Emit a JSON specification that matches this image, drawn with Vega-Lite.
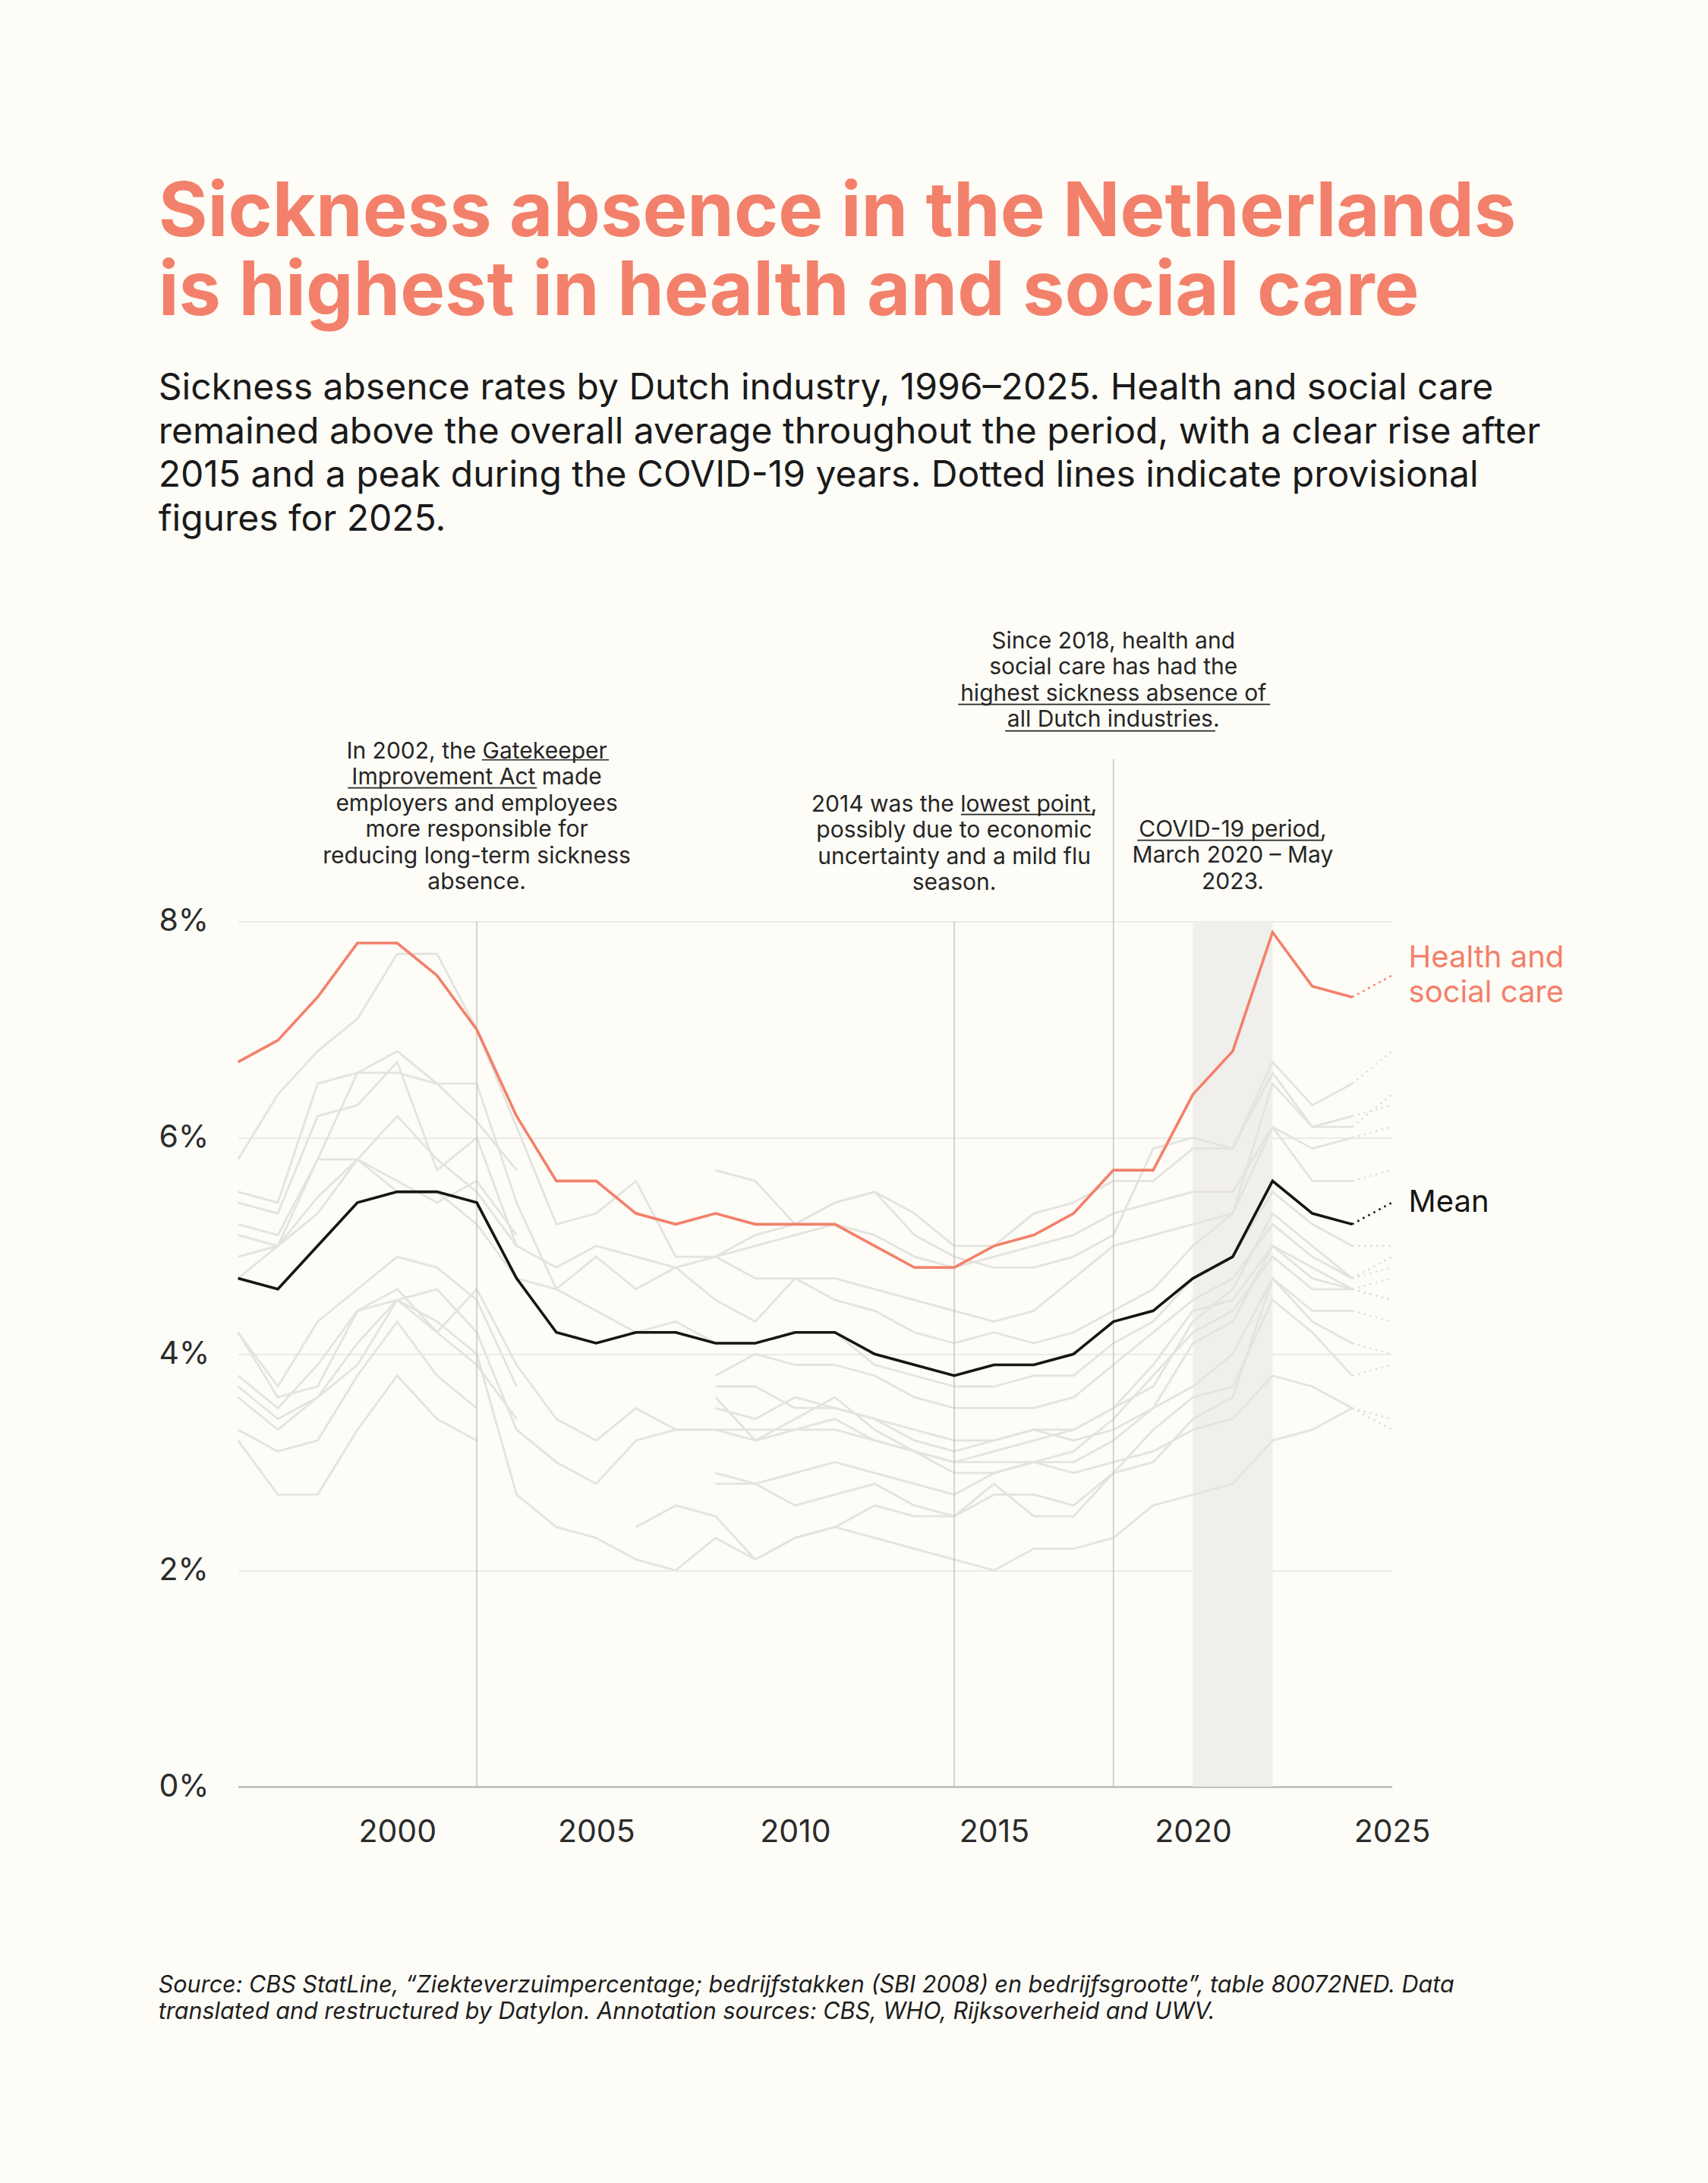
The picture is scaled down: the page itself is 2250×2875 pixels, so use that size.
{
  "$schema": "https://vega.github.io/schema/vega-lite/v6.json",
  "width": 1520,
  "height": 1139.5,
  "autosize": {"type": "none"},
  "padding": {"left": 313.6, "top": 1213.5, "right": 416.4, "bottom": 521.5},
  "background": "#FDFCF6",
  "config": {
    "view": {"stroke": null},
    "font": "Inter",
    "text": {"font": "Inter"}
  },
  "title": {
    "text": ["Sickness absence in the Netherlands", "is highest in health and social care"],
    "subtitle": [
      "Sickness absence rates by Dutch industry, 1996–2025. Health and social care",
      "remained above the overall average throughout the period, with a clear rise after",
      "2015 and a peak during the COVID-19 years. Dotted lines indicate provisional",
      "figures for 2025."
    ],
    "anchor": "start",
    "frame": "bounds",
    "orient": "top",
    "font": "Inter",
    "fontSize": 99,
    "fontWeight": 700,
    "color": "#F3806B",
    "lineHeight": 104.5,
    "subtitleFont": "Inter",
    "subtitleFontSize": 48,
    "subtitleFontWeight": 400,
    "subtitleColor": "#1A1A1A",
    "subtitleLineHeight": 57.5,
    "subtitlePadding": 52,
    "offset": 120
  },
  "datasets": {
    "industries": [
      {"s": "Landbouw (SBI 1993)", "t": 1996, "v": 5.4}, {"s": "Landbouw (SBI 1993)", "t": 1997, "v": 5.3}, {"s": "Landbouw (SBI 1993)", "t": 1998, "v": 6.2}, {"s": "Landbouw (SBI 1993)", "t": 1999, "v": 6.3}, {"s": "Landbouw (SBI 1993)", "t": 2000, "v": 6.7}, {"s": "Landbouw (SBI 1993)", "t": 2001, "v": 5.7}, {"s": "Landbouw (SBI 1993)", "t": 2002, "v": 6.0}, {"s": "Landbouw (SBI 1993)", "t": 2003, "v": 5.0},
      {"s": "Industrie (SBI 1993)", "t": 1996, "v": 4.9}, {"s": "Industrie (SBI 1993)", "t": 1997, "v": 5.0}, {"s": "Industrie (SBI 1993)", "t": 1998, "v": 5.8}, {"s": "Industrie (SBI 1993)", "t": 1999, "v": 6.6}, {"s": "Industrie (SBI 1993)", "t": 2000, "v": 6.8}, {"s": "Industrie (SBI 1993)", "t": 2001, "v": 6.5}, {"s": "Industrie (SBI 1993)", "t": 2002, "v": 6.15}, {"s": "Industrie (SBI 1993)", "t": 2003, "v": 5.7},
      {"s": "Bouw (SBI 1993)", "t": 1996, "v": 5.1}, {"s": "Bouw (SBI 1993)", "t": 1997, "v": 5.0}, {"s": "Bouw (SBI 1993)", "t": 1998, "v": 5.45}, {"s": "Bouw (SBI 1993)", "t": 1999, "v": 5.8}, {"s": "Bouw (SBI 1993)", "t": 2000, "v": 5.6}, {"s": "Bouw (SBI 1993)", "t": 2001, "v": 5.4}, {"s": "Bouw (SBI 1993)", "t": 2002, "v": 5.6}, {"s": "Bouw (SBI 1993)", "t": 2003, "v": 5.1},
      {"s": "Handel (SBI 1993)", "t": 1996, "v": 4.2}, {"s": "Handel (SBI 1993)", "t": 1997, "v": 3.7}, {"s": "Handel (SBI 1993)", "t": 1998, "v": 4.3}, {"s": "Handel (SBI 1993)", "t": 1999, "v": 4.6}, {"s": "Handel (SBI 1993)", "t": 2000, "v": 4.9}, {"s": "Handel (SBI 1993)", "t": 2001, "v": 4.8}, {"s": "Handel (SBI 1993)", "t": 2002, "v": 4.5}, {"s": "Handel (SBI 1993)", "t": 2003, "v": 3.7},
      {"s": "Horeca (SBI 1993)", "t": 1996, "v": 3.8}, {"s": "Horeca (SBI 1993)", "t": 1997, "v": 3.5}, {"s": "Horeca (SBI 1993)", "t": 1998, "v": 3.9}, {"s": "Horeca (SBI 1993)", "t": 1999, "v": 4.4}, {"s": "Horeca (SBI 1993)", "t": 2000, "v": 4.5}, {"s": "Horeca (SBI 1993)", "t": 2001, "v": 4.2}, {"s": "Horeca (SBI 1993)", "t": 2002, "v": 3.9}, {"s": "Horeca (SBI 1993)", "t": 2003, "v": 3.4},
      {"s": "Zakelijke diensten (SBI 1993)", "t": 1996, "v": 3.2}, {"s": "Zakelijke diensten (SBI 1993)", "t": 1997, "v": 2.7}, {"s": "Zakelijke diensten (SBI 1993)", "t": 1998, "v": 2.7}, {"s": "Zakelijke diensten (SBI 1993)", "t": 1999, "v": 3.3}, {"s": "Zakelijke diensten (SBI 1993)", "t": 2000, "v": 3.8}, {"s": "Zakelijke diensten (SBI 1993)", "t": 2001, "v": 3.4}, {"s": "Zakelijke diensten (SBI 1993)", "t": 2002, "v": 3.2},
      {"s": "Financiële instellingen (SBI 1993)", "t": 1996, "v": 3.3}, {"s": "Financiële instellingen (SBI 1993)", "t": 1997, "v": 3.1}, {"s": "Financiële instellingen (SBI 1993)", "t": 1998, "v": 3.2}, {"s": "Financiële instellingen (SBI 1993)", "t": 1999, "v": 3.8}, {"s": "Financiële instellingen (SBI 1993)", "t": 2000, "v": 4.3}, {"s": "Financiële instellingen (SBI 1993)", "t": 2001, "v": 3.8}, {"s": "Financiële instellingen (SBI 1993)", "t": 2002, "v": 3.5},

      {"s": "Openbaar bestuur", "t": 1996, "v": 5.8}, {"s": "Openbaar bestuur", "t": 1997, "v": 6.4}, {"s": "Openbaar bestuur", "t": 1998, "v": 6.8}, {"s": "Openbaar bestuur", "t": 1999, "v": 7.1}, {"s": "Openbaar bestuur", "t": 2000, "v": 7.7}, {"s": "Openbaar bestuur", "t": 2001, "v": 7.7}, {"s": "Openbaar bestuur", "t": 2002, "v": 7.0}, {"s": "Openbaar bestuur", "t": 2003, "v": 6.1}, {"s": "Openbaar bestuur", "t": 2004, "v": 5.2}, {"s": "Openbaar bestuur", "t": 2005, "v": 5.3}, {"s": "Openbaar bestuur", "t": 2006, "v": 5.6}, {"s": "Openbaar bestuur", "t": 2007, "v": 4.9}, {"s": "Openbaar bestuur", "t": 2008, "v": 4.9}, {"s": "Openbaar bestuur", "t": 2009, "v": 5.1}, {"s": "Openbaar bestuur", "t": 2010, "v": 5.2}, {"s": "Openbaar bestuur", "t": 2011, "v": 5.4}, {"s": "Openbaar bestuur", "t": 2012, "v": 5.5}, {"s": "Openbaar bestuur", "t": 2013, "v": 5.1}, {"s": "Openbaar bestuur", "t": 2014, "v": 4.9}, {"s": "Openbaar bestuur", "t": 2015, "v": 4.8}, {"s": "Openbaar bestuur", "t": 2016, "v": 4.8}, {"s": "Openbaar bestuur", "t": 2017, "v": 4.9}, {"s": "Openbaar bestuur", "t": 2018, "v": 5.1}, {"s": "Openbaar bestuur", "t": 2019, "v": 5.9}, {"s": "Openbaar bestuur", "t": 2020, "v": 6.0}, {"s": "Openbaar bestuur", "t": 2021, "v": 5.9}, {"s": "Openbaar bestuur", "t": 2022, "v": 6.7}, {"s": "Openbaar bestuur", "t": 2023, "v": 6.3}, {"s": "Openbaar bestuur", "t": 2024, "v": 6.5}, {"s": "Openbaar bestuur", "t": 2025, "v": 6.8},
      {"s": "Vervoer en opslag", "t": 1996, "v": 5.5}, {"s": "Vervoer en opslag", "t": 1997, "v": 5.4}, {"s": "Vervoer en opslag", "t": 1998, "v": 6.5}, {"s": "Vervoer en opslag", "t": 1999, "v": 6.6}, {"s": "Vervoer en opslag", "t": 2000, "v": 6.6}, {"s": "Vervoer en opslag", "t": 2001, "v": 6.5}, {"s": "Vervoer en opslag", "t": 2002, "v": 6.5}, {"s": "Vervoer en opslag", "t": 2003, "v": 5.4}, {"s": "Vervoer en opslag", "t": 2004, "v": 4.6}, {"s": "Vervoer en opslag", "t": 2005, "v": 4.9}, {"s": "Vervoer en opslag", "t": 2006, "v": 4.6}, {"s": "Vervoer en opslag", "t": 2007, "v": 4.8}, {"s": "Vervoer en opslag", "t": 2008, "v": 4.5}, {"s": "Vervoer en opslag", "t": 2009, "v": 4.3}, {"s": "Vervoer en opslag", "t": 2010, "v": 4.7}, {"s": "Vervoer en opslag", "t": 2011, "v": 4.5}, {"s": "Vervoer en opslag", "t": 2012, "v": 4.4}, {"s": "Vervoer en opslag", "t": 2013, "v": 4.2}, {"s": "Vervoer en opslag", "t": 2014, "v": 4.1}, {"s": "Vervoer en opslag", "t": 2015, "v": 4.2}, {"s": "Vervoer en opslag", "t": 2016, "v": 4.1}, {"s": "Vervoer en opslag", "t": 2017, "v": 4.2}, {"s": "Vervoer en opslag", "t": 2018, "v": 4.4}, {"s": "Vervoer en opslag", "t": 2019, "v": 4.6}, {"s": "Vervoer en opslag", "t": 2020, "v": 5.0}, {"s": "Vervoer en opslag", "t": 2021, "v": 5.3}, {"s": "Vervoer en opslag", "t": 2022, "v": 6.5}, {"s": "Vervoer en opslag", "t": 2023, "v": 6.1}, {"s": "Vervoer en opslag", "t": 2024, "v": 6.1}, {"s": "Vervoer en opslag", "t": 2025, "v": 6.4},
      {"s": "Industrie", "t": 1996, "v": 5.2}, {"s": "Industrie", "t": 1997, "v": 5.1}, {"s": "Industrie", "t": 1998, "v": 5.8}, {"s": "Industrie", "t": 1999, "v": 5.8}, {"s": "Industrie", "t": 2000, "v": 5.5}, {"s": "Industrie", "t": 2001, "v": 5.5}, {"s": "Industrie", "t": 2002, "v": 5.2}, {"s": "Industrie", "t": 2003, "v": 4.7}, {"s": "Industrie", "t": 2004, "v": 4.6}, {"s": "Industrie", "t": 2005, "v": 4.4}, {"s": "Industrie", "t": 2006, "v": 4.2}, {"s": "Industrie", "t": 2007, "v": 4.3}, {"s": "Industrie", "t": 2008, "v": 4.1}, {"s": "Industrie", "t": 2009, "v": 4.1}, {"s": "Industrie", "t": 2010, "v": 4.2}, {"s": "Industrie", "t": 2011, "v": 4.2}, {"s": "Industrie", "t": 2012, "v": 3.9}, {"s": "Industrie", "t": 2013, "v": 3.8}, {"s": "Industrie", "t": 2014, "v": 3.7}, {"s": "Industrie", "t": 2015, "v": 3.7}, {"s": "Industrie", "t": 2016, "v": 3.8}, {"s": "Industrie", "t": 2017, "v": 3.8}, {"s": "Industrie", "t": 2018, "v": 4.1}, {"s": "Industrie", "t": 2019, "v": 4.3}, {"s": "Industrie", "t": 2020, "v": 4.7}, {"s": "Industrie", "t": 2021, "v": 4.9}, {"s": "Industrie", "t": 2022, "v": 5.5}, {"s": "Industrie", "t": 2023, "v": 5.2}, {"s": "Industrie", "t": 2024, "v": 5.0}, {"s": "Industrie", "t": 2025, "v": 5.0},
      {"s": "Onderwijs", "t": 1996, "v": 4.7}, {"s": "Onderwijs", "t": 1997, "v": 5.0}, {"s": "Onderwijs", "t": 1998, "v": 5.3}, {"s": "Onderwijs", "t": 1999, "v": 5.8}, {"s": "Onderwijs", "t": 2000, "v": 6.2}, {"s": "Onderwijs", "t": 2001, "v": 5.8}, {"s": "Onderwijs", "t": 2002, "v": 5.5}, {"s": "Onderwijs", "t": 2003, "v": 5.0}, {"s": "Onderwijs", "t": 2004, "v": 4.8}, {"s": "Onderwijs", "t": 2005, "v": 5.0}, {"s": "Onderwijs", "t": 2006, "v": 4.9}, {"s": "Onderwijs", "t": 2007, "v": 4.8}, {"s": "Onderwijs", "t": 2008, "v": 4.9}, {"s": "Onderwijs", "t": 2009, "v": 4.7}, {"s": "Onderwijs", "t": 2010, "v": 4.7}, {"s": "Onderwijs", "t": 2011, "v": 4.7}, {"s": "Onderwijs", "t": 2012, "v": 4.6}, {"s": "Onderwijs", "t": 2013, "v": 4.5}, {"s": "Onderwijs", "t": 2014, "v": 4.4}, {"s": "Onderwijs", "t": 2015, "v": 4.3}, {"s": "Onderwijs", "t": 2016, "v": 4.4}, {"s": "Onderwijs", "t": 2017, "v": 4.7}, {"s": "Onderwijs", "t": 2018, "v": 5.0}, {"s": "Onderwijs", "t": 2019, "v": 5.1}, {"s": "Onderwijs", "t": 2020, "v": 5.2}, {"s": "Onderwijs", "t": 2021, "v": 5.3}, {"s": "Onderwijs", "t": 2022, "v": 6.1}, {"s": "Onderwijs", "t": 2023, "v": 5.6}, {"s": "Onderwijs", "t": 2024, "v": 5.6}, {"s": "Onderwijs", "t": 2025, "v": 5.7},
      {"s": "Waterbedrijven en afvalbeheer", "t": 1996, "v": 4.2}, {"s": "Waterbedrijven en afvalbeheer", "t": 1997, "v": 3.6}, {"s": "Waterbedrijven en afvalbeheer", "t": 1998, "v": 3.7}, {"s": "Waterbedrijven en afvalbeheer", "t": 1999, "v": 4.4}, {"s": "Waterbedrijven en afvalbeheer", "t": 2000, "v": 4.6}, {"s": "Waterbedrijven en afvalbeheer", "t": 2001, "v": 4.2}, {"s": "Waterbedrijven en afvalbeheer", "t": 2002, "v": 4.6}, {"s": "Waterbedrijven en afvalbeheer", "t": 2003, "v": 3.9}, {"s": "Waterbedrijven en afvalbeheer", "t": 2004, "v": 3.4}, {"s": "Waterbedrijven en afvalbeheer", "t": 2005, "v": 3.2}, {"s": "Waterbedrijven en afvalbeheer", "t": 2006, "v": 3.5}, {"s": "Waterbedrijven en afvalbeheer", "t": 2007, "v": 3.3}, {"s": "Waterbedrijven en afvalbeheer", "t": 2008, "v": 3.3}, {"s": "Waterbedrijven en afvalbeheer", "t": 2009, "v": 3.2}, {"s": "Waterbedrijven en afvalbeheer", "t": 2010, "v": 3.3}, {"s": "Waterbedrijven en afvalbeheer", "t": 2011, "v": 3.4}, {"s": "Waterbedrijven en afvalbeheer", "t": 2012, "v": 3.2}, {"s": "Waterbedrijven en afvalbeheer", "t": 2013, "v": 3.1}, {"s": "Waterbedrijven en afvalbeheer", "t": 2014, "v": 3.0}, {"s": "Waterbedrijven en afvalbeheer", "t": 2015, "v": 3.1}, {"s": "Waterbedrijven en afvalbeheer", "t": 2016, "v": 3.2}, {"s": "Waterbedrijven en afvalbeheer", "t": 2017, "v": 3.3}, {"s": "Waterbedrijven en afvalbeheer", "t": 2018, "v": 3.5}, {"s": "Waterbedrijven en afvalbeheer", "t": 2019, "v": 3.7}, {"s": "Waterbedrijven en afvalbeheer", "t": 2020, "v": 4.3}, {"s": "Waterbedrijven en afvalbeheer", "t": 2021, "v": 4.6}, {"s": "Waterbedrijven en afvalbeheer", "t": 2022, "v": 5.3}, {"s": "Waterbedrijven en afvalbeheer", "t": 2023, "v": 5.0}, {"s": "Waterbedrijven en afvalbeheer", "t": 2024, "v": 4.7}, {"s": "Waterbedrijven en afvalbeheer", "t": 2025, "v": 4.9},
      {"s": "Bouwnijverheid", "t": 1996, "v": 3.7}, {"s": "Bouwnijverheid", "t": 1997, "v": 3.4}, {"s": "Bouwnijverheid", "t": 1998, "v": 3.6}, {"s": "Bouwnijverheid", "t": 1999, "v": 4.1}, {"s": "Bouwnijverheid", "t": 2000, "v": 4.5}, {"s": "Bouwnijverheid", "t": 2001, "v": 4.6}, {"s": "Bouwnijverheid", "t": 2002, "v": 4.2}, {"s": "Bouwnijverheid", "t": 2003, "v": 3.3}, {"s": "Bouwnijverheid", "t": 2004, "v": 3.0}, {"s": "Bouwnijverheid", "t": 2005, "v": 2.8}, {"s": "Bouwnijverheid", "t": 2006, "v": 3.2}, {"s": "Bouwnijverheid", "t": 2007, "v": 3.3}, {"s": "Bouwnijverheid", "t": 2008, "v": 3.3}, {"s": "Bouwnijverheid", "t": 2009, "v": 3.3}, {"s": "Bouwnijverheid", "t": 2010, "v": 3.3}, {"s": "Bouwnijverheid", "t": 2011, "v": 3.3}, {"s": "Bouwnijverheid", "t": 2012, "v": 3.2}, {"s": "Bouwnijverheid", "t": 2013, "v": 3.1}, {"s": "Bouwnijverheid", "t": 2014, "v": 2.9}, {"s": "Bouwnijverheid", "t": 2015, "v": 2.9}, {"s": "Bouwnijverheid", "t": 2016, "v": 3.0}, {"s": "Bouwnijverheid", "t": 2017, "v": 3.0}, {"s": "Bouwnijverheid", "t": 2018, "v": 3.2}, {"s": "Bouwnijverheid", "t": 2019, "v": 3.5}, {"s": "Bouwnijverheid", "t": 2020, "v": 4.1}, {"s": "Bouwnijverheid", "t": 2021, "v": 4.3}, {"s": "Bouwnijverheid", "t": 2022, "v": 5.0}, {"s": "Bouwnijverheid", "t": 2023, "v": 4.7}, {"s": "Bouwnijverheid", "t": 2024, "v": 4.6}, {"s": "Bouwnijverheid", "t": 2025, "v": 4.5},
      {"s": "Horeca", "t": 1996, "v": 3.6}, {"s": "Horeca", "t": 1997, "v": 3.3}, {"s": "Horeca", "t": 1998, "v": 3.6}, {"s": "Horeca", "t": 1999, "v": 3.9}, {"s": "Horeca", "t": 2000, "v": 4.5}, {"s": "Horeca", "t": 2001, "v": 4.3}, {"s": "Horeca", "t": 2002, "v": 4.0}, {"s": "Horeca", "t": 2003, "v": 2.7}, {"s": "Horeca", "t": 2004, "v": 2.4}, {"s": "Horeca", "t": 2005, "v": 2.3}, {"s": "Horeca", "t": 2006, "v": 2.1}, {"s": "Horeca", "t": 2007, "v": 2.0}, {"s": "Horeca", "t": 2008, "v": 2.3}, {"s": "Horeca", "t": 2009, "v": 2.1}, {"s": "Horeca", "t": 2010, "v": 2.3}, {"s": "Horeca", "t": 2011, "v": 2.4}, {"s": "Horeca", "t": 2012, "v": 2.3}, {"s": "Horeca", "t": 2013, "v": 2.2}, {"s": "Horeca", "t": 2014, "v": 2.1}, {"s": "Horeca", "t": 2015, "v": 2.0}, {"s": "Horeca", "t": 2016, "v": 2.2}, {"s": "Horeca", "t": 2017, "v": 2.2}, {"s": "Horeca", "t": 2018, "v": 2.3}, {"s": "Horeca", "t": 2019, "v": 2.6}, {"s": "Horeca", "t": 2020, "v": 2.7}, {"s": "Horeca", "t": 2021, "v": 2.8}, {"s": "Horeca", "t": 2022, "v": 3.2}, {"s": "Horeca", "t": 2023, "v": 3.3}, {"s": "Horeca", "t": 2024, "v": 3.5}, {"s": "Horeca", "t": 2025, "v": 3.3},

      {"s": "Specialistische zakelijke diensten", "t": 2008, "v": 5.7}, {"s": "Specialistische zakelijke diensten", "t": 2009, "v": 5.6}, {"s": "Specialistische zakelijke diensten", "t": 2010, "v": 5.2}, {"s": "Specialistische zakelijke diensten", "t": 2011, "v": 5.4}, {"s": "Specialistische zakelijke diensten", "t": 2012, "v": 5.5}, {"s": "Specialistische zakelijke diensten", "t": 2013, "v": 5.3}, {"s": "Specialistische zakelijke diensten", "t": 2014, "v": 5.0}, {"s": "Specialistische zakelijke diensten", "t": 2015, "v": 5.0}, {"s": "Specialistische zakelijke diensten", "t": 2016, "v": 5.3}, {"s": "Specialistische zakelijke diensten", "t": 2017, "v": 5.4}, {"s": "Specialistische zakelijke diensten", "t": 2018, "v": 5.6}, {"s": "Specialistische zakelijke diensten", "t": 2019, "v": 5.6}, {"s": "Specialistische zakelijke diensten", "t": 2020, "v": 5.9}, {"s": "Specialistische zakelijke diensten", "t": 2021, "v": 5.9}, {"s": "Specialistische zakelijke diensten", "t": 2022, "v": 6.6}, {"s": "Specialistische zakelijke diensten", "t": 2023, "v": 6.1}, {"s": "Specialistische zakelijke diensten", "t": 2024, "v": 6.2}, {"s": "Specialistische zakelijke diensten", "t": 2025, "v": 6.3},
      {"s": "Handel", "t": 2008, "v": 3.8}, {"s": "Handel", "t": 2009, "v": 4.0}, {"s": "Handel", "t": 2010, "v": 3.9}, {"s": "Handel", "t": 2011, "v": 3.9}, {"s": "Handel", "t": 2012, "v": 3.8}, {"s": "Handel", "t": 2013, "v": 3.6}, {"s": "Handel", "t": 2014, "v": 3.5}, {"s": "Handel", "t": 2015, "v": 3.5}, {"s": "Handel", "t": 2016, "v": 3.5}, {"s": "Handel", "t": 2017, "v": 3.6}, {"s": "Handel", "t": 2018, "v": 3.9}, {"s": "Handel", "t": 2019, "v": 4.2}, {"s": "Handel", "t": 2020, "v": 4.5}, {"s": "Handel", "t": 2021, "v": 4.7}, {"s": "Handel", "t": 2022, "v": 5.2}, {"s": "Handel", "t": 2023, "v": 4.9}, {"s": "Handel", "t": 2024, "v": 4.7}, {"s": "Handel", "t": 2025, "v": 4.8},
      {"s": "Energievoorziening", "t": 2008, "v": 3.7}, {"s": "Energievoorziening", "t": 2009, "v": 3.7}, {"s": "Energievoorziening", "t": 2010, "v": 3.5}, {"s": "Energievoorziening", "t": 2011, "v": 3.5}, {"s": "Energievoorziening", "t": 2012, "v": 3.4}, {"s": "Energievoorziening", "t": 2013, "v": 3.3}, {"s": "Energievoorziening", "t": 2014, "v": 3.2}, {"s": "Energievoorziening", "t": 2015, "v": 3.2}, {"s": "Energievoorziening", "t": 2016, "v": 3.3}, {"s": "Energievoorziening", "t": 2017, "v": 3.3}, {"s": "Energievoorziening", "t": 2018, "v": 3.5}, {"s": "Energievoorziening", "t": 2019, "v": 3.9}, {"s": "Energievoorziening", "t": 2020, "v": 4.4}, {"s": "Energievoorziening", "t": 2021, "v": 4.5}, {"s": "Energievoorziening", "t": 2022, "v": 5.0}, {"s": "Energievoorziening", "t": 2023, "v": 4.8}, {"s": "Energievoorziening", "t": 2024, "v": 4.6}, {"s": "Energievoorziening", "t": 2025, "v": 4.7},
      {"s": "Financiële dienstverlening", "t": 2008, "v": 3.6}, {"s": "Financiële dienstverlening", "t": 2009, "v": 3.2}, {"s": "Financiële dienstverlening", "t": 2010, "v": 3.4}, {"s": "Financiële dienstverlening", "t": 2011, "v": 3.6}, {"s": "Financiële dienstverlening", "t": 2012, "v": 3.3}, {"s": "Financiële dienstverlening", "t": 2013, "v": 3.1}, {"s": "Financiële dienstverlening", "t": 2014, "v": 3.0}, {"s": "Financiële dienstverlening", "t": 2015, "v": 3.0}, {"s": "Financiële dienstverlening", "t": 2016, "v": 3.0}, {"s": "Financiële dienstverlening", "t": 2017, "v": 3.1}, {"s": "Financiële dienstverlening", "t": 2018, "v": 3.4}, {"s": "Financiële dienstverlening", "t": 2019, "v": 3.8}, {"s": "Financiële dienstverlening", "t": 2020, "v": 4.2}, {"s": "Financiële dienstverlening", "t": 2021, "v": 4.4}, {"s": "Financiële dienstverlening", "t": 2022, "v": 4.9}, {"s": "Financiële dienstverlening", "t": 2023, "v": 4.6}, {"s": "Financiële dienstverlening", "t": 2024, "v": 4.6}, {"s": "Financiële dienstverlening", "t": 2025, "v": 4.5},
      {"s": "Verhuur en handel van onroerend goed", "t": 2008, "v": 3.5}, {"s": "Verhuur en handel van onroerend goed", "t": 2009, "v": 3.4}, {"s": "Verhuur en handel van onroerend goed", "t": 2010, "v": 3.6}, {"s": "Verhuur en handel van onroerend goed", "t": 2011, "v": 3.5}, {"s": "Verhuur en handel van onroerend goed", "t": 2012, "v": 3.4}, {"s": "Verhuur en handel van onroerend goed", "t": 2013, "v": 3.2}, {"s": "Verhuur en handel van onroerend goed", "t": 2014, "v": 3.1}, {"s": "Verhuur en handel van onroerend goed", "t": 2015, "v": 3.2}, {"s": "Verhuur en handel van onroerend goed", "t": 2016, "v": 3.3}, {"s": "Verhuur en handel van onroerend goed", "t": 2017, "v": 3.2}, {"s": "Verhuur en handel van onroerend goed", "t": 2018, "v": 3.3}, {"s": "Verhuur en handel van onroerend goed", "t": 2019, "v": 3.5}, {"s": "Verhuur en handel van onroerend goed", "t": 2020, "v": 3.7}, {"s": "Verhuur en handel van onroerend goed", "t": 2021, "v": 4.0}, {"s": "Verhuur en handel van onroerend goed", "t": 2022, "v": 4.7}, {"s": "Verhuur en handel van onroerend goed", "t": 2023, "v": 4.4}, {"s": "Verhuur en handel van onroerend goed", "t": 2024, "v": 4.4}, {"s": "Verhuur en handel van onroerend goed", "t": 2025, "v": 4.3},
      {"s": "Informatie en communicatie", "t": 2008, "v": 2.9}, {"s": "Informatie en communicatie", "t": 2009, "v": 2.8}, {"s": "Informatie en communicatie", "t": 2010, "v": 2.9}, {"s": "Informatie en communicatie", "t": 2011, "v": 3.0}, {"s": "Informatie en communicatie", "t": 2012, "v": 2.9}, {"s": "Informatie en communicatie", "t": 2013, "v": 2.8}, {"s": "Informatie en communicatie", "t": 2014, "v": 2.7}, {"s": "Informatie en communicatie", "t": 2015, "v": 2.9}, {"s": "Informatie en communicatie", "t": 2016, "v": 3.0}, {"s": "Informatie en communicatie", "t": 2017, "v": 2.9}, {"s": "Informatie en communicatie", "t": 2018, "v": 3.0}, {"s": "Informatie en communicatie", "t": 2019, "v": 3.1}, {"s": "Informatie en communicatie", "t": 2020, "v": 3.3}, {"s": "Informatie en communicatie", "t": 2021, "v": 3.4}, {"s": "Informatie en communicatie", "t": 2022, "v": 3.8}, {"s": "Informatie en communicatie", "t": 2023, "v": 3.7}, {"s": "Informatie en communicatie", "t": 2024, "v": 3.5}, {"s": "Informatie en communicatie", "t": 2025, "v": 3.4},
      {"s": "Landbouw, bosbouw en visserij", "t": 2006, "v": 2.4}, {"s": "Landbouw, bosbouw en visserij", "t": 2007, "v": 2.6}, {"s": "Landbouw, bosbouw en visserij", "t": 2008, "v": 2.5}, {"s": "Landbouw, bosbouw en visserij", "t": 2009, "v": 2.1}, {"s": "Landbouw, bosbouw en visserij", "t": 2010, "v": 2.3}, {"s": "Landbouw, bosbouw en visserij", "t": 2011, "v": 2.4}, {"s": "Landbouw, bosbouw en visserij", "t": 2012, "v": 2.6}, {"s": "Landbouw, bosbouw en visserij", "t": 2013, "v": 2.5}, {"s": "Landbouw, bosbouw en visserij", "t": 2014, "v": 2.5}, {"s": "Landbouw, bosbouw en visserij", "t": 2015, "v": 2.8}, {"s": "Landbouw, bosbouw en visserij", "t": 2016, "v": 2.5}, {"s": "Landbouw, bosbouw en visserij", "t": 2017, "v": 2.5}, {"s": "Landbouw, bosbouw en visserij", "t": 2018, "v": 2.9}, {"s": "Landbouw, bosbouw en visserij", "t": 2019, "v": 3.3}, {"s": "Landbouw, bosbouw en visserij", "t": 2020, "v": 3.6}, {"s": "Landbouw, bosbouw en visserij", "t": 2021, "v": 3.7}, {"s": "Landbouw, bosbouw en visserij", "t": 2022, "v": 4.5}, {"s": "Landbouw, bosbouw en visserij", "t": 2023, "v": 4.2}, {"s": "Landbouw, bosbouw en visserij", "t": 2024, "v": 3.8}, {"s": "Landbouw, bosbouw en visserij", "t": 2025, "v": 3.9},
      {"s": "Cultuur, sport en recreatie", "t": 2008, "v": 2.8}, {"s": "Cultuur, sport en recreatie", "t": 2009, "v": 2.8}, {"s": "Cultuur, sport en recreatie", "t": 2010, "v": 2.6}, {"s": "Cultuur, sport en recreatie", "t": 2011, "v": 2.7}, {"s": "Cultuur, sport en recreatie", "t": 2012, "v": 2.8}, {"s": "Cultuur, sport en recreatie", "t": 2013, "v": 2.6}, {"s": "Cultuur, sport en recreatie", "t": 2014, "v": 2.5}, {"s": "Cultuur, sport en recreatie", "t": 2015, "v": 2.7}, {"s": "Cultuur, sport en recreatie", "t": 2016, "v": 2.7}, {"s": "Cultuur, sport en recreatie", "t": 2017, "v": 2.6}, {"s": "Cultuur, sport en recreatie", "t": 2018, "v": 2.9}, {"s": "Cultuur, sport en recreatie", "t": 2019, "v": 3.0}, {"s": "Cultuur, sport en recreatie", "t": 2020, "v": 3.4}, {"s": "Cultuur, sport en recreatie", "t": 2021, "v": 3.6}, {"s": "Cultuur, sport en recreatie", "t": 2022, "v": 4.7}, {"s": "Cultuur, sport en recreatie", "t": 2023, "v": 4.3}, {"s": "Cultuur, sport en recreatie", "t": 2024, "v": 4.1}, {"s": "Cultuur, sport en recreatie", "t": 2025, "v": 4.0},
      {"s": "Verhuur en overige zakelijke diensten", "t": 2008, "v": 4.9}, {"s": "Verhuur en overige zakelijke diensten", "t": 2009, "v": 5.0}, {"s": "Verhuur en overige zakelijke diensten", "t": 2010, "v": 5.1}, {"s": "Verhuur en overige zakelijke diensten", "t": 2011, "v": 5.2}, {"s": "Verhuur en overige zakelijke diensten", "t": 2012, "v": 5.1}, {"s": "Verhuur en overige zakelijke diensten", "t": 2013, "v": 4.9}, {"s": "Verhuur en overige zakelijke diensten", "t": 2014, "v": 4.8}, {"s": "Verhuur en overige zakelijke diensten", "t": 2015, "v": 4.9}, {"s": "Verhuur en overige zakelijke diensten", "t": 2016, "v": 5.0}, {"s": "Verhuur en overige zakelijke diensten", "t": 2017, "v": 5.1}, {"s": "Verhuur en overige zakelijke diensten", "t": 2018, "v": 5.3}, {"s": "Verhuur en overige zakelijke diensten", "t": 2019, "v": 5.4}, {"s": "Verhuur en overige zakelijke diensten", "t": 2020, "v": 5.5}, {"s": "Verhuur en overige zakelijke diensten", "t": 2021, "v": 5.5}, {"s": "Verhuur en overige zakelijke diensten", "t": 2022, "v": 6.1}, {"s": "Verhuur en overige zakelijke diensten", "t": 2023, "v": 5.9}, {"s": "Verhuur en overige zakelijke diensten", "t": 2024, "v": 6.0}, {"s": "Verhuur en overige zakelijke diensten", "t": 2025, "v": 6.1}
    ],
    "health": [
      {"t": 1996, "v": 6.7}, {"t": 1997, "v": 6.9}, {"t": 1998, "v": 7.3}, {"t": 1999, "v": 7.8}, {"t": 2000, "v": 7.8}, {"t": 2001, "v": 7.5}, {"t": 2002, "v": 7.0}, {"t": 2003, "v": 6.2}, {"t": 2004, "v": 5.6}, {"t": 2005, "v": 5.6}, {"t": 2006, "v": 5.3}, {"t": 2007, "v": 5.2}, {"t": 2008, "v": 5.3}, {"t": 2009, "v": 5.2}, {"t": 2010, "v": 5.2}, {"t": 2011, "v": 5.2}, {"t": 2012, "v": 5.0}, {"t": 2013, "v": 4.8}, {"t": 2014, "v": 4.8}, {"t": 2015, "v": 5.0}, {"t": 2016, "v": 5.1}, {"t": 2017, "v": 5.3}, {"t": 2018, "v": 5.7}, {"t": 2019, "v": 5.7}, {"t": 2020, "v": 6.4}, {"t": 2021, "v": 6.8}, {"t": 2022, "v": 7.9}, {"t": 2023, "v": 7.4}, {"t": 2024, "v": 7.3}, {"t": 2025, "v": 7.5}
    ],
    "mean": [
      {"t": 1996, "v": 4.7}, {"t": 1997, "v": 4.6}, {"t": 1998, "v": 5.0}, {"t": 1999, "v": 5.4}, {"t": 2000, "v": 5.5}, {"t": 2001, "v": 5.5}, {"t": 2002, "v": 5.4}, {"t": 2003, "v": 4.7}, {"t": 2004, "v": 4.2}, {"t": 2005, "v": 4.1}, {"t": 2006, "v": 4.2}, {"t": 2007, "v": 4.2}, {"t": 2008, "v": 4.1}, {"t": 2009, "v": 4.1}, {"t": 2010, "v": 4.2}, {"t": 2011, "v": 4.2}, {"t": 2012, "v": 4.0}, {"t": 2013, "v": 3.9}, {"t": 2014, "v": 3.8}, {"t": 2015, "v": 3.9}, {"t": 2016, "v": 3.9}, {"t": 2017, "v": 4.0}, {"t": 2018, "v": 4.3}, {"t": 2019, "v": 4.4}, {"t": 2020, "v": 4.7}, {"t": 2021, "v": 4.9}, {"t": 2022, "v": 5.6}, {"t": 2023, "v": 5.3}, {"t": 2024, "v": 5.2}, {"t": 2025, "v": 5.4}
    ]
  },
  "layer": [
    {
      "data": {"values": [{"start": 2020, "end": 2022, "low": 0, "high": 8}]},
      "mark": {"type": "rect", "color": "#F1EFEB"},
      "encoding": {
        "x": {"field": "start", "type": "quantitative", "scale": {"domain": [1996, 2025], "nice": false, "zero": false},
          "axis": {"values": [2000, 2005, 2010, 2015, 2020, 2025], "format": "d", "title": null, "grid": false,
            "ticks": false, "tickSize": 0, "labelPadding": 40, "labelFont": "Inter", "labelFontSize": 41, "labelColor": "#2B2B2B",
            "domain": true, "domainColor": "#BDBDBB", "domainWidth": 2.5, "labelFlush": false, "labelOverlap": false}},
        "x2": {"field": "end"},
        "y": {"field": "low", "type": "quantitative", "scale": {"domain": [0, 8], "nice": false},
          "axis": {"values": [0, 2, 4, 6, 8], "labelExpr": "datum.value + '%'", "title": null, "domain": false,
            "ticks": false, "tickSize": 0, "labelAlign": "left", "labelBaseline": "middle", "labelPadding": 104.6,
            "labelFont": "Inter", "labelFontSize": 41, "labelColor": "#2B2B2B", "labelFlush": false, "labelOverlap": false,
            "grid": true, "gridColor": "#E6E5E1", "gridWidth": 1.6}},
        "y2": {"field": "high"}
      }
    },
    {
      "data": {"name": "industries"},
      "transform": [{"filter": "datum.t <= 2024"}],
      "mark": {"type": "line", "color": "#E3E3E0", "strokeWidth": 2.8, "strokeJoin": "round"},
      "encoding": {
        "x": {"field": "t", "type": "quantitative", "scale": {"domain": [1996, 2025], "nice": false, "zero": false}},
        "y": {"field": "v", "type": "quantitative", "scale": {"domain": [0, 8], "nice": false}},
        "detail": {"field": "s"}
      }
    },
    {
      "data": {"name": "industries"},
      "transform": [{"filter": "datum.t >= 2024"}],
      "mark": {"type": "line", "color": "#DDDDDA", "strokeWidth": 2.4, "strokeDash": [2.4, 5.6]},
      "encoding": {
        "x": {"field": "t", "type": "quantitative", "scale": {"domain": [1996, 2025], "nice": false, "zero": false}},
        "y": {"field": "v", "type": "quantitative", "scale": {"domain": [0, 8], "nice": false}},
        "detail": {"field": "s"}
      }
    },
    {
      "data": {"values": [{"t": 2002, "base": 0, "top": 8}, {"t": 2014, "base": 0, "top": 8}, {"t": 2018, "base": 0, "top": 9.5}]},
      "mark": {"type": "rule", "color": "#BDBDBA", "strokeWidth": 1.3},
      "encoding": {
        "x": {"field": "t", "type": "quantitative", "scale": {"domain": [1996, 2025], "nice": false, "zero": false}},
        "y": {"field": "base", "type": "quantitative", "scale": {"domain": [0, 8], "nice": false}},
        "y2": {"field": "top"}
      }
    },
    {
      "data": {"name": "health"},
      "transform": [{"filter": "datum.t <= 2024"}],
      "mark": {"type": "line", "color": "#F3806B", "strokeWidth": 3.6, "strokeJoin": "miter"},
      "encoding": {
        "x": {"field": "t", "type": "quantitative", "scale": {"domain": [1996, 2025], "nice": false, "zero": false}},
        "y": {"field": "v", "type": "quantitative", "scale": {"domain": [0, 8], "nice": false}}
      }
    },
    {
      "data": {"name": "health"},
      "transform": [{"filter": "datum.t >= 2024"}],
      "mark": {"type": "line", "color": "#F3806B", "strokeWidth": 2.6, "strokeDash": [2.6, 5.4]},
      "encoding": {
        "x": {"field": "t", "type": "quantitative", "scale": {"domain": [1996, 2025], "nice": false, "zero": false}},
        "y": {"field": "v", "type": "quantitative", "scale": {"domain": [0, 8], "nice": false}}
      }
    },
    {
      "data": {"name": "mean"},
      "transform": [{"filter": "datum.t <= 2024"}],
      "mark": {"type": "line", "color": "#151515", "strokeWidth": 3.6, "strokeJoin": "miter"},
      "encoding": {
        "x": {"field": "t", "type": "quantitative", "scale": {"domain": [1996, 2025], "nice": false, "zero": false}},
        "y": {"field": "v", "type": "quantitative", "scale": {"domain": [0, 8], "nice": false}}
      }
    },
    {
      "data": {"name": "mean"},
      "transform": [{"filter": "datum.t >= 2024"}],
      "mark": {"type": "line", "color": "#151515", "strokeWidth": 2.6, "strokeDash": [2.6, 5.4]},
      "encoding": {
        "x": {"field": "t", "type": "quantitative", "scale": {"domain": [1996, 2025], "nice": false, "zero": false}},
        "y": {"field": "v", "type": "quantitative", "scale": {"domain": [0, 8], "nice": false}}
      }
    },
    {
      "data": {"values": [
        {"t": 2002, "v": 9.572, "note": "In 2002, the Gatekeeper\nImprovement Act made\nemployers and employees\nmore responsible for\nreducing long-term sickness\nabsence."},
        {"t": 2014, "v": 9.080, "note": "2014 was the lowest point,\npossibly due to economic\nuncertainty and a mild flu\nseason."},
        {"t": 2021, "v": 8.848, "note": "COVID-19 period,\nMarch 2020 – May\n2023."},
        {"t": 2018, "v": 10.590, "note": "Since 2018, health and\nsocial care has had the\nhighest sickness absence of\nall Dutch industries."}
      ]},
      "mark": {"type": "text", "align": "center", "baseline": "middle", "lineBreak": "\n", "lineHeight": 34.5,
        "font": "Inter", "fontSize": 30, "color": "#262626"},
      "encoding": {
        "x": {"field": "t", "type": "quantitative", "scale": {"domain": [1996, 2025], "nice": false, "zero": false}},
        "y": {"field": "v", "type": "quantitative", "scale": {"domain": [0, 8], "nice": false}},
        "text": {"field": "note"}
      }
    },
    {
      "data": {"values": [
        {"from": 2002.13, "to": 2005.32, "at": 9.494},
        {"from": 1998.76, "to": 2003.51, "at": 9.235},
        {"from": 2014.17, "to": 2017.53, "at": 8.989},
        {"from": 2018.60, "to": 2023.27, "at": 8.750},
        {"from": 2014.10, "to": 2021.94, "at": 10.007},
        {"from": 2015.28, "to": 2020.56, "at": 9.761}
      ]},
      "mark": {"type": "rule", "color": "#262626", "strokeWidth": 1.6},
      "encoding": {
        "x": {"field": "from", "type": "quantitative", "scale": {"domain": [1996, 2025], "nice": false, "zero": false}},
        "x2": {"field": "to"},
        "y": {"field": "at", "type": "quantitative", "scale": {"domain": [0, 8], "nice": false}}
      }
    },
    {
      "data": {"values": [{"t": 2025, "v": 7.5, "name": "Health and\nsocial care"}]},
      "mark": {"type": "text", "align": "left", "baseline": "middle", "dx": 22, "dy": -23, "lineBreak": "\n", "lineHeight": 46,
        "font": "Inter", "fontSize": 40, "color": "#F3806B"},
      "encoding": {
        "x": {"field": "t", "type": "quantitative", "scale": {"domain": [1996, 2025], "nice": false, "zero": false}},
        "y": {"field": "v", "type": "quantitative", "scale": {"domain": [0, 8], "nice": false}},
        "text": {"field": "name"}
      }
    },
    {
      "data": {"values": [{"t": 2025, "v": 5.4, "name": "Mean"}]},
      "mark": {"type": "text", "align": "left", "baseline": "middle", "dx": 22,
        "font": "Inter", "fontSize": 40, "color": "#151515"},
      "encoding": {
        "x": {"field": "t", "type": "quantitative", "scale": {"domain": [1996, 2025], "nice": false, "zero": false}},
        "y": {"field": "v", "type": "quantitative", "scale": {"domain": [0, 8], "nice": false}},
        "text": {"field": "name"}
      }
    },
    {
      "data": {"values": [
        {"t": 1994.0, "v": -1.84, "source": "Source: CBS StatLine, “Ziekteverzuimpercentage; bedrijfstakken (SBI 2008) en bedrijfsgrootte”, table 80072NED. Data\ntranslated and restructured by Datylon. Annotation sources: CBS, WHO, Rijksoverheid and UWV."}
      ]},
      "mark": {"type": "text", "align": "left", "baseline": "middle", "lineBreak": "\n", "lineHeight": 35,
        "font": "Inter", "fontSize": 30.5, "fontStyle": "italic", "color": "#1E1E1E"},
      "encoding": {
        "x": {"field": "t", "type": "quantitative", "scale": {"domain": [1996, 2025], "nice": false, "zero": false}},
        "y": {"field": "v", "type": "quantitative", "scale": {"domain": [0, 8], "nice": false}},
        "text": {"field": "source"}
      }
    }
  ]
}
